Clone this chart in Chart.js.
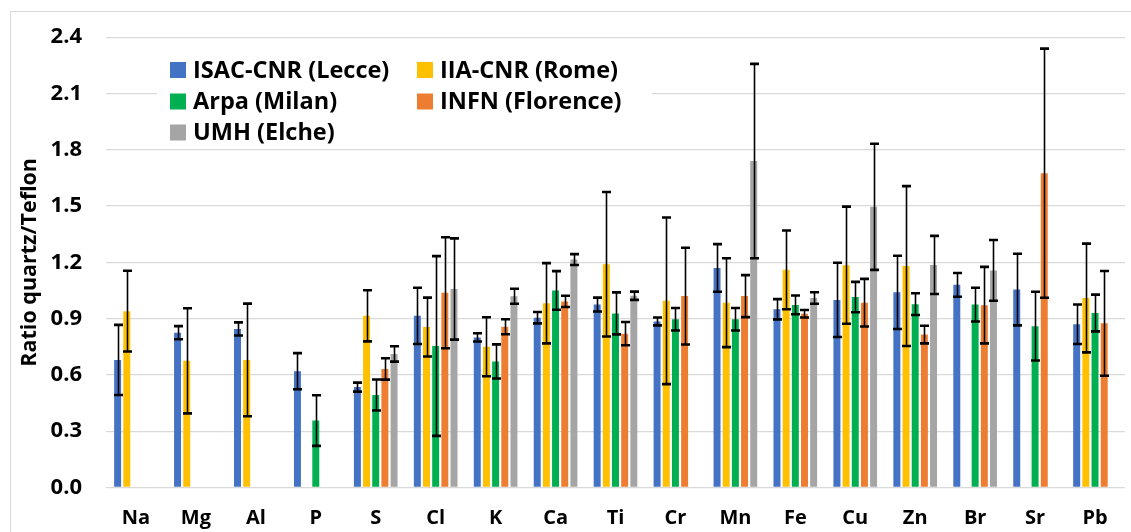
<!DOCTYPE html>
<html>
<head>
<meta charset="utf-8">
<script src="https://cdn.jsdelivr.net/npm/chart.js@4"></script>
<style>
  html, body { margin: 0; padding: 0; background: #ffffff; }
  canvas { display: block; }
</style>
</head>
<body>
<canvas id="chart" width="1131" height="532"></canvas>
<script>
// Elements analysed
const categories = ['Na', 'Mg', 'Al', 'P', 'S', 'Cl', 'K', 'Ca', 'Ti', 'Cr', 'Mn', 'Fe', 'Cu', 'Zn', 'Br', 'Sr', 'Pb'];

// Series labels (one per laboratory)
const labLecce = 'ISAC-CNR (Lecce)';
const labRome = 'IIA-CNR (Rome)';
const labMilan = 'Arpa (Milan)';
const labFlorence = 'INFN (Florence)';
const labElche = 'UMH (Elche)';

// Quartz/Teflon ratios per laboratory
const lecceRatio    = [0.68, 0.825, 0.845, 0.62, 0.535, 0.915, 0.80, 0.905, 0.975, 0.885, 1.17, 0.95, 1.00, 1.04, 1.08, 1.055, 0.87];
const romeRatio     = [0.94, 0.675, 0.68, null, 0.915, 0.855, 0.75, 0.982, 1.19, 0.995, 0.985, 1.16, 1.185, 1.18, null, null, 1.01];
const milanRatio    = [null, null, null, 0.357, 0.493, 0.754, 0.672, 1.05, 0.928, 0.897, 0.897, 0.973, 1.015, 0.977, 0.975, 0.86, 0.93];
const florenceRatio = [null, null, null, null, 0.632, 1.038, 0.857, 0.992, 0.82, 1.02, 1.02, 0.926, 0.985, 0.815, 0.972, 1.675, 0.875];
const elcheRatio    = [null, null, null, null, 0.712, 1.058, 1.019, 1.215, 1.022, null, 1.74, 1.01, 1.496, 1.186, 1.157, null, null];

// Uncertainties (± half-width of each error bar)
const lecceErr    = [0.187, 0.035, 0.035, 0.096, 0.024, 0.15, 0.022, 0.03, 0.037, 0.021, 0.127, 0.054, 0.198, 0.195, 0.063, 0.191, 0.105];
const romeErr     = [0.215, 0.28, 0.30, null, 0.136, 0.157, 0.157, 0.214, 0.385, 0.444, 0.237, 0.21, 0.312, 0.426, null, null, 0.29];
const milanErr    = [null, null, null, 0.135, 0.083, 0.479, 0.091, 0.103, 0.112, 0.06, 0.06, 0.05, 0.081, 0.058, 0.09, 0.183, 0.098];
const florenceErr = [null, null, null, null, 0.057, 0.296, 0.04, 0.03, 0.062, 0.258, 0.112, 0.02, 0.127, 0.047, 0.204, 0.664, 0.279];
const elcheErr    = [null, null, null, null, 0.041, 0.27, 0.04, 0.029, 0.022, null, 0.518, 0.031, 0.336, 0.155, 0.162, null, null];

// Y axis ticks
const yMin = 0;
const yMax = 2.4;
const yStep = 0.3;

const FONT = '"Open Sans", Lato, "Liberation Sans", sans-serif';

const datasets = [
  { label: labLecce,    data: lecceRatio,    errors: lecceErr,    backgroundColor: '#4472C4' },
  { label: labRome,     data: romeRatio,     errors: romeErr,     backgroundColor: '#FFC000' },
  { label: labMilan,    data: milanRatio,    errors: milanErr,    backgroundColor: '#00B050' },
  { label: labFlorence, data: florenceRatio, errors: florenceErr, backgroundColor: '#ED7D31' },
  { label: labElche,    data: elcheRatio,    errors: elcheErr,    backgroundColor: '#A5A5A5' }
].map(d => Object.assign(d, { categoryPercentage: 0.765, barPercentage: 0.76 }));

// Light frame around the whole figure
const framePlugin = {
  id: 'frame',
  beforeDraw(chart) {
    const ctx = chart.ctx;
    ctx.save();
    ctx.fillStyle = '#ffffff';
    ctx.fillRect(0, 0, chart.width, chart.height);
    ctx.strokeStyle = '#d9d9d9';
    ctx.lineWidth = 1;
    ctx.strokeRect(10.5, 11.5, chart.width + 20, chart.height + 20);
    ctx.restore();
  }
};

// Symmetric error bars drawn on top of each bar
const errorBarPlugin = {
  id: 'errorBars',
  afterDatasetsDraw(chart) {
    const ctx = chart.ctx;
    const yScale = chart.scales.y;
    ctx.save();
    ctx.strokeStyle = '#000000';
    chart.data.datasets.forEach((ds, i) => {
      const meta = chart.getDatasetMeta(i);
      meta.data.forEach((bar, j) => {
        const v = ds.data[j];
        const e = ds.errors[j];
        if (v == null || e == null) return;
        const x = Math.round(bar.x) + 0.5;
        const yTop = yScale.getPixelForValue(v + e);
        const yBot = yScale.getPixelForValue(v - e);
        const half = 4.5;
        ctx.lineWidth = 1.6;
        ctx.beginPath();
        ctx.moveTo(x, yTop);
        ctx.lineTo(x, yBot);
        ctx.stroke();
        ctx.lineWidth = 2.6;
        ctx.beginPath();
        ctx.moveTo(x - half, yTop);
        ctx.lineTo(x + half, yTop);
        ctx.moveTo(x - half, yBot);
        ctx.lineTo(x + half, yBot);
        ctx.stroke();
      });
    });
    ctx.restore();
  }
};

// Two-column legend in a white box inside the plot area
const legendBoxPlugin = {
  id: 'legendBox',
  afterDraw(chart) {
    const ctx = chart.ctx;
    const box = { x: 157, y: 42, w: 495, h: 105 };
    const cols = [170, 417];
    const rows = [70, 101.5, 132.5];
    ctx.save();
    ctx.fillStyle = '#ffffff';
    ctx.fillRect(box.x, box.y, box.w, box.h);
    ctx.font = 'bold 23.5px ' + FONT;
    ctx.textBaseline = 'middle';
    ctx.textAlign = 'left';
    chart.data.datasets.forEach((ds, i) => {
      const cx = cols[i % 2];
      const cy = rows[Math.floor(i / 2)];
      ctx.fillStyle = ds.backgroundColor;
      ctx.fillRect(cx, cy - 8, 16, 16);
      ctx.fillStyle = '#000000';
      ctx.fillText(ds.label, cx + 23, cy + 1);
    });
    ctx.restore();
  }
};

new Chart(document.getElementById('chart'), {
  type: 'bar',
  data: { labels: categories, datasets: datasets },
  plugins: [framePlugin, errorBarPlugin, legendBoxPlugin],
  options: {
    responsive: false,
    animation: false,
    events: [],
    layout: { padding: { left: 0, top: 34, right: 6, bottom: 0 } },
    plugins: {
      legend: { display: false },
      title: { display: false },
      tooltip: { enabled: false }
    },
    scales: {
      x: {
        grid: { display: false, drawTicks: false },
        border: { display: false },
        ticks: {
          color: '#000000',
          font: { family: FONT, size: 20, weight: 'bold' },
          padding: 19,
          maxRotation: 0,
          autoSkip: false
        },
        afterFit(scale) { scale.height = 44.5; }
      },
      y: {
        min: yMin,
        max: yMax,
        grid: { color: '#d9d9d9', lineWidth: 1.3, drawTicks: false },
        border: { display: false },
        ticks: {
          stepSize: yStep,
          color: '#000000',
          font: { family: FONT, size: 22, weight: 'bold' },
          padding: 24,
          callback: (v) => Number(v).toFixed(1)
        },
        title: {
          display: true,
          text: 'Ratio quartz/Teflon',
          color: '#000000',
          font: { family: FONT, size: 21.5, weight: 'bold' },
          padding: { top: 17, bottom: 0 }
        },
        afterFit(scale) { scale.width = 106; }
      }
    }
  }
});
</script>
</body>
</html>
